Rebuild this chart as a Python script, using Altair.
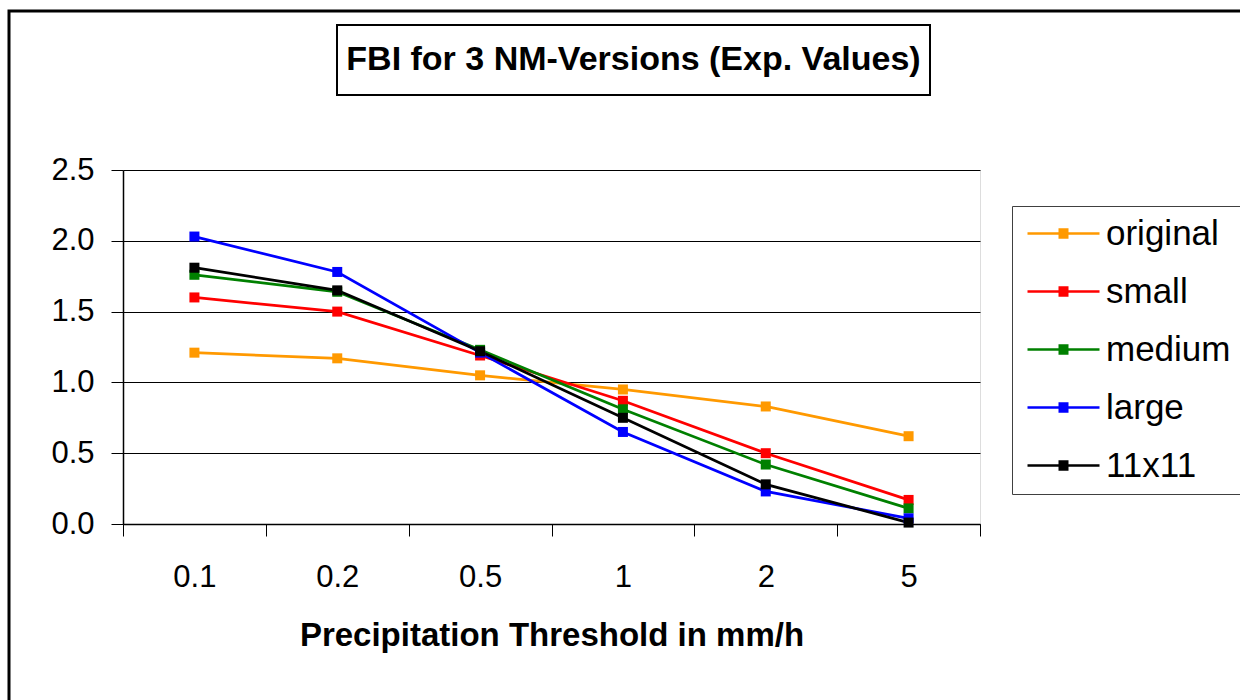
import altair as alt
import pandas as pd

thresholds = ["0.1", "0.2", "0.5", "1", "2", "5"]
series_names = ["original", "small", "medium", "large", "11x11"]
original = [1.21, 1.17, 1.05, 0.95, 0.83, 0.62]
small = [1.60, 1.50, 1.19, 0.87, 0.50, 0.17]
medium = [1.76, 1.64, 1.23, 0.81, 0.42, 0.11]
large = [2.03, 1.78, 1.21, 0.65, 0.23, 0.04]
n11x11 = [1.81, 1.65, 1.22, 0.75, 0.28, 0.01]
colors = ["#FF9900", "#FF0000", "#008000", "#0000FF", "#000000"]
y_ticks = [0.0, 0.5, 1.0, 1.5, 2.0, 2.5]
chart_title = "FBI for 3 NM-Versions (Exp. Values)"

rows = []
for name, vals in zip(series_names, [original, small, medium, large, n11x11]):
    for t, v in zip(thresholds, vals):
        rows.append({"threshold": t, "series": name, "fbi": v})
df = pd.DataFrame(rows)

FONT = "Liberation Sans"

# legend symbol: line with a filled square (drawn as stroke hatching)
sym = ("M-2.4,0H12.0"
       "M3.8,-0.8H5.8M3.8,-0.4H5.8M3.8,0.4H5.8M3.8,0.8H5.8")

x_enc = alt.X("threshold:N", sort=thresholds,
              scale=alt.Scale(type="band", paddingInner=0, paddingOuter=0),
              axis=alt.Axis(title="Precipitation Threshold in mm/h",
                            tickBand="extent", labelAngle=0, tickSize=12,
                            labelPadding=26, labelFontSize=31, labelFont=FONT,
                            labelColor="black", tickColor="black",
                            domainColor="black", domainWidth=1.5,
                            titleFontSize=33, titleFont=FONT, titleFontWeight="bold",
                            titleColor="black", titlePadding=27, grid=False))
y_enc = alt.Y("fbi:Q", scale=alt.Scale(domain=[0, 2.5], nice=False, zero=True),
              axis=alt.Axis(title=None, values=y_ticks, format=".1f",
                            tickSize=12, tickColor="black", labelPadding=17,
                            labelFontSize=31, labelFont=FONT, labelColor="black",
                            domainColor="black", domainWidth=1.5,
                            grid=True, gridColor="black", gridWidth=1))

color_scale = alt.Scale(domain=series_names, range=colors)

base = alt.Chart(df)

lines = base.mark_line(strokeWidth=2.75).encode(
    x=x_enc, y=y_enc,
    color=alt.Color("series:N", scale=color_scale,
                    legend=alt.Legend(title=None, orient="none", legendX=889, legendY=36,
                                      symbolType=sym, symbolSize=100, symbolStrokeWidth=2.5,
                                      labelFontSize=35, labelFont=FONT, labelColor="black",
                                      labelOffset=49, rowPadding=22, padding=10,
                                      strokeColor="#404040", fillColor="white")),
)
points = base.mark_point(shape="square", filled=True, size=100, opacity=1).encode(
    x=x_enc, y=y_enc,
    fill=alt.Fill("series:N", scale=color_scale, legend=None),
)

deco = pd.DataFrame({"label": [chart_title]})
outer = alt.Chart(deco).mark_rect(fill="white", fillOpacity=0, stroke="black", strokeWidth=3).encode(
    x=alt.value(-114), x2=alt.value(1140), y=alt.value(-159), y2=alt.value(560))
title_box = alt.Chart(deco).mark_rect(fill="white", stroke="black", strokeWidth=2).encode(
    x=alt.value(214), x2=alt.value(807), y=alt.value(-145), y2=alt.value(-75))
title_text = alt.Chart(deco).mark_text(fontSize=34, font=FONT, fontWeight="bold", color="black",
                                       align="center", baseline="alphabetic").encode(
    text="label:N", x=alt.value(510.5), y=alt.value(-100))

chart = alt.layer(outer, title_box, title_text, lines, points).properties(
    width=857, height=354,
    padding={"left": 123, "top": 170, "right": 260, "bottom": 176},
    autosize=alt.AutoSizeParams(type="none"),
).configure_view(stroke="#808080", strokeWidth=1.5).configure(background="white")

chart.save("out.html", embed_options={"renderer": "svg", "actions": False})
